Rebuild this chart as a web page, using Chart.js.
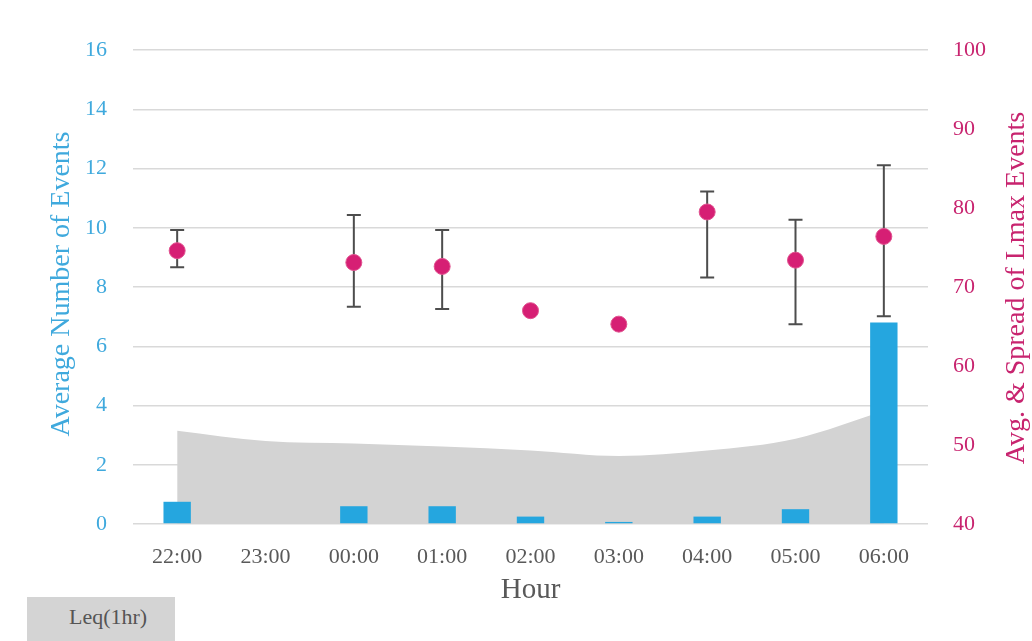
<!DOCTYPE html>
<html>
<head>
<meta charset="utf-8">
<script src="https://cdn.jsdelivr.net/npm/chart.js@4/dist/chart.umd.min.js"></script>
<style>
  body { margin: 0; background: #fff; }
  #wrap { position: relative; width: 1032px; height: 641px; }
  #legend {
    position: absolute; left: 27px; top: 597px; width: 148px; height: 44px;
    background: #d4d4d4; font-family: 'Liberation Serif', serif; font-size: 22px;
    color: #555; line-height: 40px; box-sizing: border-box; padding-left: 42px;
  }
</style>
</head>
<body>
<div id="wrap">
  <canvas id="chart"></canvas>
  <div id="legend">Leq(1hr)</div>
</div>
<script>
const hours = ['22:00', '23:00', '00:00', '01:00', '02:00', '03:00', '04:00', '05:00', '06:00'];
const avgEvents = [0.75, 0, 0.6, 0.6, 0.25, 0.07, 0.25, 0.5, 6.8];
const leqHour = [51.8, 50.5, 50.2, 49.8, 49.3, 48.6, 49.3, 50.8, 54.3];
const lmaxAvg = [74.6, null, 73.1, 72.6, 67.0, 65.3, 79.5, 73.4, 76.4];
const lmaxLow = [72.5, null, 67.5, 67.2, null, null, 71.2, 65.3, 66.3];
const lmaxHigh = [77.2, null, 79.1, 77.2, null, null, 82.1, 78.5, 85.4];

const blue = '#3fa9dd';
const pink = '#c8246f';
const grey = '#595959';
const serif = 'Liberation Serif';

// draws the spread of Lmax as whiskers with caps
const errorBars = {
  id: 'errorBars',
  beforeDatasetsDraw(chart) {
    const ctx = chart.ctx;
    const x = chart.scales.x;
    const y = chart.scales.y2;
    ctx.save();
    ctx.strokeStyle = '#4d4d4d';
    ctx.lineWidth = 2;
    for (let i = 0; i < hours.length; i++) {
      if (lmaxLow[i] == null) continue;
      const px = x.getPixelForValue(i);
      const top = y.getPixelForValue(lmaxHigh[i]);
      const bot = y.getPixelForValue(lmaxLow[i]);
      ctx.beginPath();
      ctx.moveTo(px, top); ctx.lineTo(px, bot);
      ctx.moveTo(px - 7, top); ctx.lineTo(px + 7, top);
      ctx.moveTo(px - 7, bot); ctx.lineTo(px + 7, bot);
      ctx.stroke();
    }
    ctx.restore();
  }
};

// axis titles, both side titles read bottom to top
const axisTitles = {
  id: 'axisTitles',
  afterDraw(chart) {
    const ctx = chart.ctx;
    const area = chart.chartArea;
    const midY = (area.top + area.bottom) / 2;
    ctx.save();
    ctx.textAlign = 'center';
    ctx.textBaseline = 'middle';

    ctx.font = '29px "Liberation Serif"';
    ctx.fillStyle = grey;
    ctx.fillText('Hour', (area.left + area.right) / 2, 590);

    ctx.font = '28px "Liberation Serif"';
    ctx.save();
    ctx.translate(62, midY - 3);
    ctx.rotate(-Math.PI / 2);
    ctx.fillStyle = blue;
    ctx.fillText('Average Number of Events', 0, 0);
    ctx.restore();

    ctx.translate(1017, midY + 1);
    ctx.rotate(-Math.PI / 2);
    ctx.fillStyle = pink;
    ctx.fillText('Avg. & Spread of Lmax Events', 0, 0);
    ctx.restore();
  }
};

new Chart(document.getElementById('chart'), {
  type: 'bar',
  data: {
    labels: hours,
    datasets: [{
      type: 'line',
      label: 'Lmax',
      data: lmaxAvg,
      yAxisID: 'y2',
      backgroundColor: '#d61f74',
      borderColor: '#e0528f',
      borderWidth: 1,
      pointRadius: 8,
      showLine: false,
      order: 1
    }, {
      type: 'bar',
      label: 'Events',
      data: avgEvents,
      yAxisID: 'y',
      backgroundColor: '#25a6df',
      categoryPercentage: 1,
      barPercentage: 0.31,
      order: 2
    }, {
      type: 'line',
      label: 'Leq(1hr)',
      data: leqHour,
      yAxisID: 'y2',
      backgroundColor: '#d3d3d3',
      borderWidth: 0,
      pointRadius: 0,
      fill: 'start',
      cubicInterpolationMode: 'monotone',
      order: 3
    }]
  },
  options: {
    responsive: true,
    maintainAspectRatio: false,
    animation: false,
    layout: { padding: { left: 59, right: 21, top: 50, bottom: 51 } },
    plugins: {
      legend: { display: false },
      tooltip: { enabled: false }
    },
    scales: {
      x: {
        type: 'category',
        grid: { display: false, drawTicks: false },
        border: { display: false },
        ticks: { color: grey, font: { family: serif, size: 22, lineHeight: 1 }, padding: 22 }
      },
      y: {
        position: 'left',
        min: 0,
        max: 16,
        ticks: { stepSize: 2, color: blue, font: { family: serif, size: 22 }, padding: 26 },
        grid: { color: '#d9d9d9', lineWidth: 1.5, drawTicks: false },
        border: { display: false }
      },
      y2: {
        position: 'right',
        min: 40,
        max: 100,
        ticks: { stepSize: 10, color: pink, font: { family: serif, size: 22 }, padding: 25 },
        grid: { display: false, drawTicks: false },
        border: { display: false }
      }
    }
  },
  plugins: [errorBars, axisTitles]
});
</script>
</body>
</html>
